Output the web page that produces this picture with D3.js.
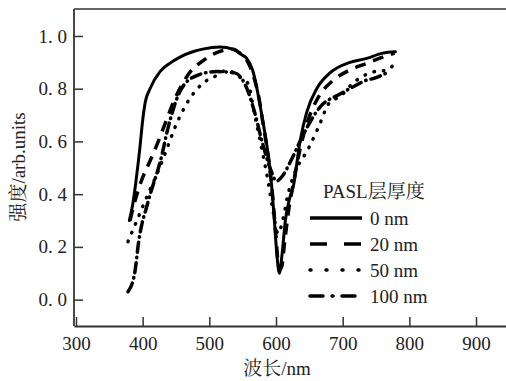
<!DOCTYPE html>
<html>
<head>
<meta charset="utf-8">
<script src="https://cdn.jsdelivr.net/npm/d3@7"></script>
<style>
  body { margin: 0; background: #fff; }
  svg { display: block; }
  .curve { fill: none; stroke: #000; }
</style>
</head>
<body>
<div id="chart"></div>
<script>
// data (wavelength in nm, intensity in arb. units)
const seriesNames = ["0 nm", "20 nm", "50 nm", "100 nm"];

const wl0  = [380, 385, 390, 396, 400, 404, 411, 426, 440, 456, 475, 490, 516, 535, 548, 556, 565, 573, 580, 586, 592, 597, 601, 605, 609, 614, 620, 626, 636, 646, 661, 681, 711, 736, 760, 779];
const val0 = [0.30, 0.36, 0.45, 0.58, 0.68, 0.75, 0.80, 0.865, 0.895, 0.92, 0.94, 0.95, 0.958, 0.95, 0.93, 0.915, 0.87, 0.78, 0.68, 0.59, 0.47, 0.32, 0.18, 0.10, 0.17, 0.30, 0.38, 0.43, 0.60, 0.71, 0.80, 0.86, 0.90, 0.915, 0.935, 0.94];

const wl20  = [381, 388, 398, 410, 425, 437, 448, 460, 475, 490, 505, 520, 535, 548, 558, 566, 574, 581, 588, 594, 599, 604, 608, 613, 619, 626, 636, 648, 664, 685, 710, 735, 760, 778];
const val20 = [0.30, 0.37, 0.45, 0.52, 0.61, 0.69, 0.76, 0.82, 0.875, 0.905, 0.93, 0.945, 0.95, 0.93, 0.90, 0.85, 0.77, 0.66, 0.55, 0.42, 0.27, 0.13, 0.12, 0.22, 0.34, 0.44, 0.57, 0.68, 0.77, 0.83, 0.87, 0.895, 0.92, 0.935];

const wl50  = [378, 393, 408, 422, 436, 448, 463, 490, 511, 526, 545, 558, 568, 578, 588, 596, 603, 610, 618, 628, 648, 663, 681, 696, 715, 748, 765, 780];
const val50 = [0.22, 0.31, 0.40, 0.48, 0.57, 0.65, 0.73, 0.82, 0.85, 0.87, 0.845, 0.82, 0.70, 0.58, 0.45, 0.33, 0.25, 0.30, 0.40, 0.48, 0.57, 0.65, 0.75, 0.77, 0.82, 0.865, 0.87, 0.90];

const wl100  = [378, 388, 394, 408, 426, 441, 456, 481, 511, 538, 558, 568, 579, 591, 601, 610, 621, 636, 648, 666, 696, 718, 733, 748, 770];
const val100 = [0.03, 0.10, 0.22, 0.37, 0.52, 0.68, 0.79, 0.85, 0.865, 0.86, 0.79, 0.71, 0.60, 0.50, 0.45, 0.47, 0.52, 0.60, 0.66, 0.73, 0.78, 0.81, 0.83, 0.84, 0.865];

const xTicks = [300, 400, 500, 600, 700, 800, 900];
const yTicks = [0.0, 0.2, 0.4, 0.6, 0.8, 1.0];
const yTickLabels = ["0. 0", "0. 2", "0. 4", "0. 6", "0. 8", "1. 0"];
const xTitle = "波长/nm";
const yTitle = "强度/arb.units";
const legendTitle = "PASL层厚度";

const W = 506, H = 381;
const plotLeft = 74, plotTop = 9, plotBottom = 326;
const fontStack = "'Liberation Serif', 'Noto Serif CJK SC', 'Noto Sans CJK SC', serif";
const fs = 19;
const textColor = "#222";

const svg = d3.select("#chart").append("svg")
  .attr("width", W).attr("height", H);

const x = d3.scaleLinear().domain([297, 950]).range([plotLeft, plotLeft + 653 * 0.6667]);
const y = d3.scaleLinear().domain([-0.1, 1.1]).range([plotBottom, plotTop + 0.6]);

// frame: top, left, bottom (right side runs off the page)
const axisColor = "#333";
svg.append("line").attr("x1", plotLeft).attr("x2", W + 5).attr("y1", plotTop).attr("y2", plotTop)
  .attr("stroke", "#666").attr("stroke-width", 2);

const xAxis = svg.append("g")
  .attr("transform", `translate(0,${plotBottom})`)
  .call(d3.axisBottom(x).tickValues(xTicks).tickSizeInner(-9).tickSizeOuter(0).tickPadding(11).tickFormat(d3.format("d")));
xAxis.select(".domain").attr("stroke", axisColor).attr("stroke-width", 1.8);
xAxis.selectAll(".tick line").attr("stroke", axisColor).attr("stroke-width", 1.5);
xAxis.selectAll(".tick text")
  .style("font-family", fontStack).style("font-size", fs + "px").attr("fill", textColor);

const yAxis = svg.append("g")
  .attr("transform", `translate(${plotLeft},0)`)
  .call(d3.axisLeft(y).tickValues(yTicks).tickSizeInner(-9).tickSizeOuter(0).tickPadding(7)
    .tickFormat((d, i) => yTickLabels[i]));
yAxis.select(".domain").attr("stroke", axisColor).attr("stroke-width", 1.8)
  .attr("d", `M0,${plotTop}V${plotBottom}`);
yAxis.selectAll(".tick text")
  .style("font-family", fontStack).style("font-size", fs + "px").style("white-space", "pre")
  .attr("fill", textColor);
yAxis.selectAll(".tick line").attr("stroke", axisColor).attr("stroke-width", 1.5);

// axis titles
svg.append("text")
  .attr("x", 277).attr("y", 375)
  .attr("text-anchor", "middle")
  .style("font-family", fontStack).style("font-size", fs + "px").attr("fill", textColor)
  .text(xTitle);

svg.append("text")
  .attr("transform", `translate(25,167) rotate(-90)`)
  .attr("text-anchor", "middle")
  .style("font-family", fontStack).style("font-size", fs + "px").attr("fill", textColor)
  .text(yTitle);

// curves
const styles = [
  { dash: null, width: 3, cap: "round" },
  { dash: "11,8", width: 3.5, cap: "butt" },
  { dash: "0.5,9", width: 3.5, cap: "round" },
  { dash: "10,5,0.5,5", width: 3.5, cap: "round" }
];
const seriesData = [
  d3.zip(wl0, val0),
  d3.zip(wl20, val20),
  d3.zip(wl50, val50),
  d3.zip(wl100, val100)
];

const line = d3.line()
  .x(d => x(d[0]))
  .y(d => y(d[1]))
  .curve(d3.curveMonotoneX);

seriesData.forEach((pts, i) => {
  svg.append("path")
    .attr("class", "curve")
    .attr("d", line(pts))
    .attr("stroke-width", styles[i].width)
    .attr("stroke-linecap", styles[i].cap)
    .attr("stroke-linejoin", "round")
    .attr("stroke-dasharray", styles[i].dash);
});

// legend
const lg = svg.append("g");
lg.append("text")
  .attr("x", 323).attr("y", 198)
  .style("font-family", fontStack).style("font-size", fs + "px").attr("fill", textColor)
  .text(legendTitle);

const legendDash = [null, "17,17", "1,15", "13,9,1,9"];
seriesNames.forEach((name, i) => {
  const ly = 218 + i * 26;
  lg.append("line")
    .attr("x1", 310).attr("x2", 362)
    .attr("y1", ly).attr("y2", ly)
    .attr("stroke", "#000")
    .attr("stroke-width", 3.5)
    .attr("stroke-linecap", i === 2 || i === 3 ? "round" : "butt")
    .attr("stroke-dasharray", legendDash[i]);
  lg.append("text")
    .attr("x", 370).attr("y", ly + 6.5)
    .style("font-family", fontStack).style("font-size", fs + "px").attr("fill", textColor)
    .text(name);
});
</script>
</body>
</html>
